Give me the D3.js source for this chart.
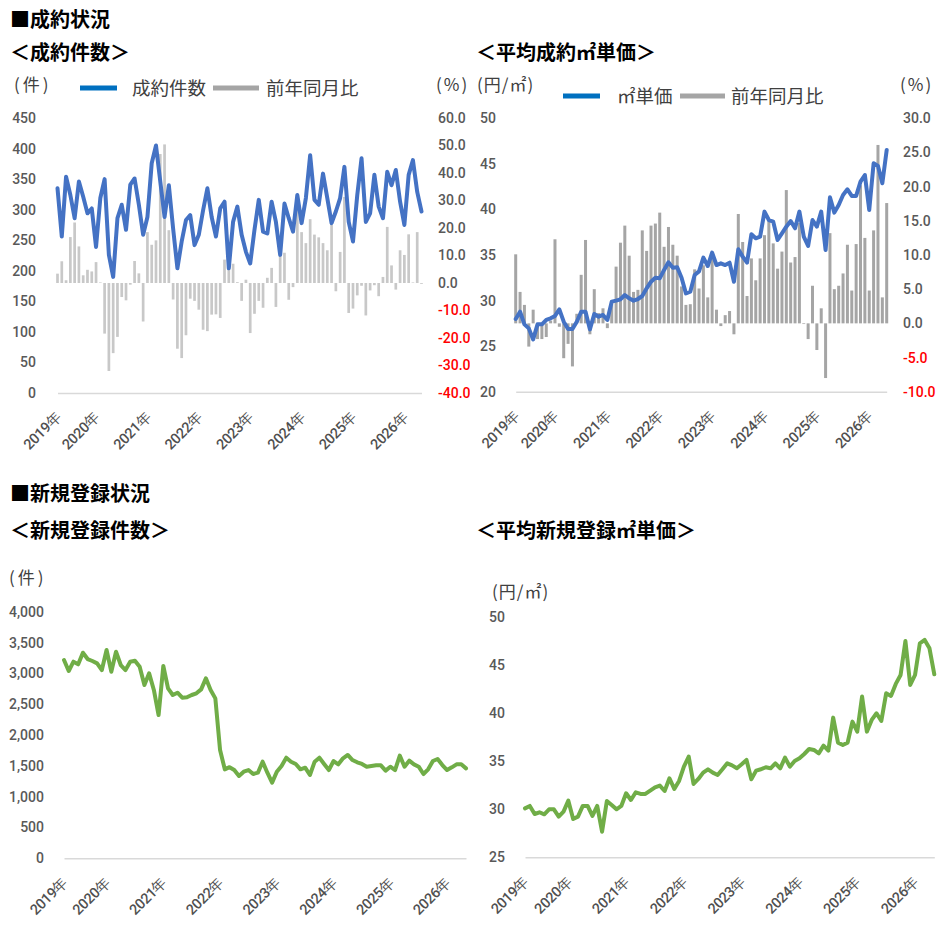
<!DOCTYPE html>
<html><head><meta charset="utf-8">
<script src="https://cdn.jsdelivr.net/npm/d3@7"></script>
<style>
body{margin:0;background:#fff}
svg{display:block}
text{font-family:"Noto Sans CJK JP","Noto Sans",sans-serif}
.tick text{font-family:Roboto,"Noto Sans",sans-serif}
</style>
</head><body>
<svg id="c" width="950" height="942"></svg>
<script>
// ---- categories ----
const months = d3.timeMonth.range(new Date(2019, 3, 1), new Date(2026, 5, 1)); // 2019-04 .. 2026-05
const yearLabels = ["2019年","2020年","2021年","2022年","2023年","2024年","2025年","2026年"];
const yearLabelIndex = [0, 9, 21, 33, 45, 57, 69, 81];

// ---- 成約件数 (件) ----
const contractCount = [335,256,354,324,286,346,321,294,302,239,319,350,226,190,286,308,267,341,351,308,
  259,288,376,405,346,288,340,269,204,248,283,291,242,259,299,335,288,256,302,313,
  204,280,305,259,231,212,267,316,264,261,313,280,226,310,286,264,324,278,319,389,
  316,308,359,319,278,297,319,370,280,248,324,384,280,294,357,305,286,362,340,365,
  313,275,357,381,329,297];
// ---- 成約件数 前年同月比 (%) ----
const contractCountYoY = [3.4,7.9,1.0,16.7,22.0,13.3,2.8,4.8,4.2,7.6,0.2,-18.4,-32.0,-25.5,-19.6,-5.1,-6.3,-0.6,8.0,3.5,
  -14.0,18.5,13.9,15.5,46.9,50.4,19.2,-6.0,-23.9,-27.3,-19.0,-5.7,-6.5,-9.7,-17.0,-17.5,-11.5,-11.4,-12.7,8.5,
  12.1,7.0,0.3,-6.5,1.2,-18.2,-11.2,-6.5,-9.0,1.9,5.5,-8.7,11.0,11.0,-6.1,-1.5,30.1,18.5,14.5,23.2,
  17.6,16.6,14.5,11.9,22.0,-3.0,11.3,31.3,-10.9,-9.3,-4.5,-1.0,-11.8,-2.7,-0.8,-4.8,2.2,20.4,6.4,-2.4,
  11.9,10.2,17.7,0.2,18.5,-0.3];
// ---- 平均成約㎡単価 (円/㎡) ----
const contractPrice = [27.98,28.78,27.39,26.95,25.74,27.39,27.39,27.87,28.05,28.31,29.04,27.68,26.88,26.88,27.68,28.78,28.78,26.84,28.53,28.23,
  28.42,27.87,29.88,29.99,30.14,30.61,30.25,29.99,30.17,30.50,31.34,32.07,32.51,32.44,33.36,34.20,33.61,33.65,32.51,30.79,
  30.98,32.81,33.2,34.71,33.79,35.26,33.90,34.09,33.90,34.16,32.07,35.62,34.82,34.16,37.27,36.83,37.01,39.76,38.84,38.66,
  36.65,37.38,38.11,38.73,37.93,39.76,37.01,35.99,38.84,38.11,39.76,35.55,41.33,39.65,40.49,41.59,42.21,41.48,41.48,43.05,
  43.78,39.94,45.06,44.77,42.87,46.53];
// ---- 平均成約㎡単価 前年同月比 (%) ----
const contractPriceYoY = [10.1,4.6,2.7,-3.4,2.0,-2.3,-2.3,-2.0,0.4,12.3,-0.5,-5.1,-3.0,-6.3,1.4,7.1,12.2,-1.6,5.0,1.5,
  2.2,-0.7,3.4,8.3,11.8,14.3,9.9,4.6,4.9,13.6,10.6,14.3,14.6,16.2,11.2,14.1,11.5,9.9,5.4,2.7,
  2.8,7.9,5.1,8.5,3.8,10.0,2.0,-0.4,1.2,1.8,-1.6,16.0,11.9,4.0,9.5,6.3,9.5,12.9,15.1,11.7,
  8.0,10.5,19.5,8.9,9.7,14.7,-0.1,-2.3,5.5,-3.9,2.2,-8.0,13.2,5.0,5.5,7.3,11.5,4.8,11.6,20.2,
  12.5,4.8,13.6,26.1,3.8,17.6];
// ---- 新規登録件数 (件) ----
const listingCount = [3216,3038,3189,3146,3335,3232,3200,3162,3054,3378,3027,3351,3135,3054,3189,3205,3108,2811,3000,2730,
  2324,3119,2757,2649,2686,2605,2611,2649,2676,2740,2919,2730,2594,1757,1443,1478,1432,1335,1405,1432,
  1367,1389,1567,1389,1227,1405,1497,1632,1567,1530,1443,1470,1351,1567,1632,1530,1432,1578,1524,1622,
  1676,1594,1557,1530,1486,1497,1508,1508,1422,1486,1432,1665,1486,1584,1524,1486,1367,1443,1578,1611,
  1513,1432,1475,1524,1524,1459];
// ---- 平均新規登録㎡単価 (円/㎡) ----
const listingPrice = [30.10,30.35,29.51,29.69,29.48,30.00,30.00,29.24,29.76,30.90,28.99,29.24,30.35,30.35,29.31,30.35,27.67,30.87,30.45,30.00,
  30.35,31.67,30.97,31.77,31.60,31.60,31.94,32.29,32.47,31.91,33.23,32.12,32.95,34.44,35.49,32.64,33.16,33.82,34.17,33.82,
  33.58,34.17,34.79,34.58,34.27,34.69,35.14,33.13,34.03,34.17,34.38,34.27,34.79,34.27,35.38,34.44,35.03,35.31,35.76,36.28,
  36.18,35.83,36.63,36.11,39.55,36.94,36.70,36.94,39.13,38.09,41.74,38.09,39.31,40.00,39.20,42.08,41.81,43.06,43.99,47.53,
  42.95,43.99,47.29,47.64,46.77,44.06];

// ---- tick values ----
const ticksCount = [0,50,100,150,200,250,300,350,400,450];
const ticksCountYoY = [-40,-30,-20,-10,0,10,20,30,40,50,60];
const ticksPrice = [20,25,30,35,40,45,50];
const ticksPriceYoY = [-10,-5,0,5,10,15,20,25,30];
const ticksListing = [0,500,1000,1500,2000,2500,3000,3500,4000];
const ticksListingPrice = [25,30,35,40,45,50];

const svg = d3.select("#c");
const idx = d3.range(months.length);
const GRAY_TXT = "#595959";

function heading(g, x, y, t) {
  g.append("text").attr("x", x).attr("y", y).attr("font-size", 20).attr("font-weight", 700)
    .attr("fill", "#000").text(t);
}
function unitText(g, x, y, t, ls) {
  g.append("text").attr("x", x).attr("y", y).attr("font-size", 17).attr("fill", "#404040")
    .attr("letter-spacing", ls).text(t);
}
function legendItem(g, x1, x2, y, color, tx, t) {
  g.append("line").attr("x1", x1).attr("x2", x2).attr("y1", y).attr("y2", y)
    .attr("stroke", color).attr("stroke-width", 5);
  g.append("text").attr("x", tx).attr("y", y + 7).attr("font-size", 18.5).attr("fill", "#404040").text(t);
}
function xAxis(g, x, y0) {
  const ax = d3.axisBottom(x).tickValues(yearLabelIndex).tickFormat((d, k) => yearLabels[k])
    .tickSize(0).tickSizeOuter(0);
  const a = g.append("g").attr("transform", `translate(0,${y0})`).call(ax);
  a.select(".domain").attr("stroke", "#d9d9d9").attr("stroke-width", 1.6);
  a.selectAll(".tick text").attr("x", 0).attr("y", 0).attr("dy", 0)
    .attr("text-anchor", "end").attr("font-size", 14.5).attr("font-weight", 500)
    .attr("letter-spacing", -0.4).attr("fill", "#505050")
    .attr("transform", "translate(4,25) rotate(-45)");
}
function yAxisLeft(g, y, xr, vals, fmt) {
  const a = g.append("g").attr("transform", `translate(${xr},0)`)
    .call(d3.axisLeft(y).tickValues(vals).tickFormat(fmt).tickSize(0).tickPadding(0));
  a.select(".domain").remove();
  a.selectAll(".tick text").attr("font-size", 14).attr("font-weight", 500).attr("fill", GRAY_TXT);
}
function yAxisRight(g, y, xl, vals) {
  const a = g.append("g").attr("transform", `translate(${xl},0)`)
    .call(d3.axisRight(y).tickValues(vals).tickFormat(d => d.toFixed(1)).tickSize(0).tickPadding(0));
  a.select(".domain").remove();
  a.selectAll(".tick text").attr("font-size", 14).attr("font-weight", 500)
    .attr("fill", d => d < 0 ? "#ff0000" : GRAY_TXT);
}
function bars(g, x, yR, data, w, color) {
  g.append("g").selectAll("rect").data(data).join("rect")
    .attr("x", (d, i) => x(i) - w / 2)
    .attr("y", d => yR(Math.max(0, d)))
    .attr("width", w)
    .attr("height", d => Math.abs(yR(d) - yR(0)))
    .attr("fill", color);
}
function line(g, x, y, data, color, w) {
  g.append("path").datum(data)
    .attr("d", d3.line().x((d, i) => x(i)).y(d => y(d)))
    .attr("fill", "none").attr("stroke", color).attr("stroke-width", w)
    .attr("stroke-linejoin", "round").attr("stroke-linecap", "round");
}

// ================= Top-left: 成約件数 =================
svg.append("clipPath").attr("id", "clipTL").append("rect").attr("x", 0).attr("y", 0).attr("width", 470).attr("height", 470);
{
  const g = svg.append("g").attr("clip-path", "url(#clipTL)");
  heading(g, 10, 27, "■成約状況");
  heading(g, 10, 60, "＜成約件数＞");
  unitText(g, 14, 91, "(件)", 3);
  unitText(g, 436, 91, "(%)", 2);
  legendItem(g, 80, 117, 88, "#0070C0", 132, "成約件数");
  legendItem(g, 213, 259, 88, "#A5A5A5", 266, "前年同月比");
  const x = d3.scalePoint().domain(idx).range([57.5, 421.5]);
  const yL = d3.scaleLinear().domain([0, 450]).range([393, 118]);
  const yR = d3.scaleLinear().domain([-40, 60]).range([393, 118]);
  yAxisLeft(g, yL, 36, ticksCount, d3.format("d"));
  yAxisRight(g, yR, 438, ticksCountYoY);
  xAxis(g, x, 393);
  bars(g, x, yR, contractCountYoY, 2.7, "#C8C8C8");
  line(g, x, yL, contractCount, "#4472C4", 4);
}

// ================= Top-right: 平均成約㎡単価 =================
{
  const g = svg.append("g");
  heading(g, 476, 60, "＜平均成約㎡単価＞");
  unitText(g, 477, 91, "(円/㎡)", 1);
  unitText(g, 900, 91, "(%)", 2);
  legendItem(g, 563, 600, 96, "#0070C0", 617, "㎡単価");
  legendItem(g, 680, 725, 96, "#A5A5A5", 731, "前年同月比");
  const x = d3.scalePoint().domain(idx).range([515.7, 886.7]);
  const yL = d3.scaleLinear().domain([20, 50]).range([391.7, 118.3]);
  const yR = d3.scaleLinear().domain([-10, 30]).range([391.7, 118.3]);
  yAxisLeft(g, yL, 496, ticksPrice, d3.format("d"));
  yAxisRight(g, yR, 903, ticksPriceYoY);
  xAxis(g, x, 391.7);
  bars(g, x, yR, contractPriceYoY, 3, "#A5A5A5");
  line(g, x, yL, contractPrice, "#4472C4", 4);
}

// ================= Bottom-left: 新規登録件数 =================
{
  const g = svg.append("g");
  heading(g, 10, 501, "■新規登録状況");
  heading(g, 10, 538, "＜新規登録件数＞");
  unitText(g, 9, 584, "(件)", 3);
  const x = d3.scalePoint().domain(idx).range([64, 466]);
  const y = d3.scaleLinear().domain([0, 4000]).range([858.3, 611.7]);
  yAxisLeft(g, y, 44, ticksListing, d3.format(","));
  xAxis(g, x, 858.3);
  line(g, x, y, listingCount, "#70AD47", 4);
}

// ================= Bottom-right: 平均新規登録㎡単価 =================
{
  const g = svg.append("g");
  heading(g, 476, 538, "＜平均新規登録㎡単価＞");
  unitText(g, 492, 598, "(円/㎡)", 1);
  const x = d3.scalePoint().domain(idx).range([525, 934.3]);
  const y = d3.scaleLinear().domain([25, 50]).range([857.3, 617.3]);
  yAxisLeft(g, y, 505, ticksListingPrice, d3.format("d"));
  xAxis(g, x, 857.3);
  line(g, x, y, listingPrice, "#70AD47", 4);
}
</script>
</body></html>
